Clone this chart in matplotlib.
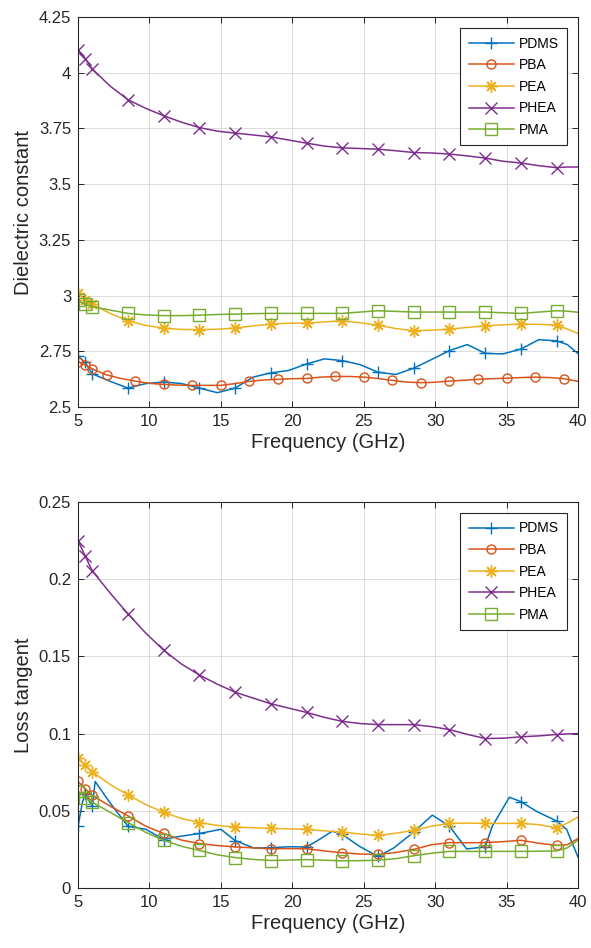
import matplotlib
matplotlib.use('Agg')
import matplotlib.pyplot as plt
import numpy as np

plt.rcParams['font.family'] = ['Liberation Sans', 'DejaVu Sans']

# frequency grid (GHz)
freq = [5, 5.5, 6, 7.25, 8.5, 9.75, 11, 12.25, 13.5, 14.75, 16, 17.25, 18.5, 19.75, 21,
        22.25, 23.5, 24.75, 26, 27.25, 28.5, 29.75, 31, 32.25, 33.5, 34.75, 36, 37.25,
        38.5, 39.25, 40]
marks = [5, 5.5, 6, 8.5, 11, 13.5, 16, 18.5, 21, 23.5, 26, 28.5, 31, 33.5, 36, 38.5]

# ---- dielectric constant ----
eps_pdms = [2.728, 2.70, 2.649, 2.615, 2.585, 2.605, 2.612, 2.605, 2.585, 2.564, 2.585,
            2.634, 2.653, 2.664, 2.693, 2.716, 2.708, 2.69, 2.656, 2.646, 2.674, 2.713,
            2.753, 2.78, 2.741, 2.738, 2.76, 2.802, 2.797, 2.78, 2.74]

freq_pba = [5, 5.5, 6, 7, 8, 9, 10, 11, 12, 13, 14, 15, 16, 17, 18, 19, 20, 21, 22, 23,
            24, 25, 26, 27, 28, 29, 30, 31, 32, 33, 34, 35, 36, 37, 38, 39, 40]
marks_pba = [5, 5.5, 6, 7, 9, 11, 13, 15, 17, 19, 21, 23, 25, 27, 29, 31, 33, 35, 37, 39]
eps_pba = [2.704, 2.689, 2.671, 2.644, 2.628, 2.616, 2.606, 2.601, 2.598, 2.597, 2.597,
           2.597, 2.605, 2.615, 2.621, 2.624, 2.627, 2.628, 2.634, 2.637, 2.637, 2.634,
           2.628, 2.619, 2.612, 2.609, 2.611, 2.616, 2.620, 2.624, 2.627, 2.629, 2.632,
           2.634, 2.632, 2.627, 2.615]

eps_pea = [3.013, 2.978, 2.96, 2.92, 2.887, 2.866, 2.854, 2.848, 2.847, 2.849, 2.854,
           2.864, 2.872, 2.876, 2.876, 2.882, 2.887, 2.878, 2.867, 2.852, 2.842, 2.845,
           2.849, 2.857, 2.864, 2.869, 2.872, 2.871, 2.867, 2.85, 2.83]

eps_phea = [4.10, 4.064, 4.017, 3.94, 3.879, 3.84, 3.807, 3.778, 3.754, 3.738, 3.729,
            3.721, 3.712, 3.698, 3.684, 3.671, 3.663, 3.66, 3.657, 3.65, 3.642, 3.64,
            3.635, 3.627, 3.617, 3.603, 3.595, 3.583, 3.574, 3.577, 3.577]

eps_pma = [2.978, 2.96, 2.95, 2.935, 2.92, 2.913, 2.91, 2.91, 2.912, 2.915, 2.917, 2.919,
           2.92, 2.92, 2.92, 2.92, 2.92, 2.926, 2.932, 2.929, 2.926, 2.926, 2.926, 2.926,
           2.926, 2.923, 2.92, 2.926, 2.932, 2.93, 2.925]

# ---- loss tangent ----
freq_pdms_tan = [5, 5.3, 5.5, 5.8, 6, 6.2, 7.25, 8.5, 9.75, 11, 11.9, 13.5, 15, 16, 17.3,
                 18.5, 19.8, 21, 21.7, 22.8, 23.5, 24.7, 26, 27.1, 28.5, 29.8, 31, 32.2,
                 33.5, 34.0, 35.2, 36, 37.1, 38.5, 39.2, 40]
tan_pdms = [0.040, 0.055, 0.061, 0.056, 0.053, 0.069, 0.055, 0.040, 0.038, 0.0314, 0.0331,
            0.0353, 0.038, 0.0307, 0.0259, 0.0261, 0.0267, 0.0266, 0.0303, 0.0368, 0.0347,
            0.027, 0.0204, 0.0259, 0.0362, 0.0472, 0.0401, 0.0253, 0.0266, 0.040, 0.0588,
            0.0559, 0.0496, 0.0434, 0.038, 0.020]

tan_pba = [0.069, 0.0643, 0.0599, 0.053, 0.0467, 0.040, 0.0353, 0.031, 0.0288, 0.0275,
           0.0266, 0.026, 0.0254, 0.0255, 0.0254, 0.024, 0.0228, 0.022, 0.0217, 0.023,
           0.025, 0.028, 0.0294, 0.0293, 0.0294, 0.030, 0.0309, 0.029, 0.0276, 0.028, 0.032]

tan_pea = [0.084, 0.0796, 0.0753, 0.067, 0.0603, 0.054, 0.0489, 0.045, 0.0424, 0.0405,
           0.0395, 0.039, 0.0386, 0.0383, 0.038, 0.037, 0.0362, 0.035, 0.034, 0.0355,
           0.0373, 0.040, 0.0419, 0.042, 0.0419, 0.0418, 0.0419, 0.041, 0.039, 0.042, 0.046]

tan_phea = [0.225, 0.215, 0.2054, 0.191, 0.1775, 0.165, 0.154, 0.145, 0.1379, 0.132,
            0.1268, 0.123, 0.1193, 0.1165, 0.1137, 0.1105, 0.1079, 0.1065, 0.1058, 0.1058,
            0.1058, 0.1045, 0.1026, 0.0995, 0.0968, 0.097, 0.0979, 0.0985, 0.0994, 0.0998,
            0.100]

tan_pma = [0.0628, 0.0584, 0.0555, 0.049, 0.0424, 0.036, 0.0309, 0.027, 0.0243, 0.0215,
           0.0197, 0.0185, 0.0178, 0.0181, 0.0184, 0.018, 0.0176, 0.0177, 0.018, 0.019,
           0.0209, 0.0225, 0.0237, 0.0237, 0.0237, 0.0237, 0.0237, 0.0238, 0.024, 0.026,
           0.031]

names = ['PDMS', 'PBA', 'PEA', 'PHEA', 'PMA']
colors = ['#0072BD', '#D95319', '#EDB120', '#7E2F8E', '#77AC30']
markers = ['+', 'o', (8, 2, 0), 'x', 's']   # (8,2,0): matlab-style asterisk
msizes = [9, 6.5, 9, 8, 8]

top_series = [(freq, eps_pdms, marks), (freq_pba, eps_pba, marks_pba), (freq, eps_pea, marks),
              (freq, eps_phea, marks), (freq, eps_pma, marks)]
bot_series = [(freq_pdms_tan, tan_pdms, marks), (freq, tan_pba, marks), (freq, tan_pea, marks),
              (freq, tan_phea, marks), (freq, tan_pma, marks)]

fig = plt.figure(figsize=(5.91, 9.48), dpi=100)
ax1 = fig.add_axes([0.132, 0.5707, 0.846, 0.4113])
ax2 = fig.add_axes([0.132, 0.0633, 0.846, 0.4072])


def draw(ax, series, ylim, yticks, ylabel):
    for (f, v, mk), name, c, m, ms in zip(series, names, colors, markers, msizes):
        f = np.array(f)
        idx = np.where(np.isin(f, mk))[0]
        ax.plot(f, v, color=c, lw=1.1, marker=m, markevery=list(idx), ms=ms,
                mfc='none', mec=c, mew=1.0, label=name)
    ax.set_xlim(5, 40)
    ax.set_ylim(*ylim)
    ax.set_xticks([5, 10, 15, 20, 25, 30, 35, 40])
    ax.set_yticks(yticks)
    ax.set_yticklabels([('%g' % t) for t in yticks])
    ax.grid(True, color='#dcdcdc', lw=0.7)
    ax.set_axisbelow(True)
    ax.tick_params(direction='in', top=True, right=True, length=4, width=0.7,
                   labelsize=12, colors='#262626', pad=5)
    for s in ax.spines.values():
        s.set_color('#262626')
        s.set_linewidth(0.8)
    ax.set_xlabel('Frequency (GHz)', fontsize=14.5, color='#262626', labelpad=3)
    ax.set_ylabel(ylabel, fontsize=14.5, color='#262626', labelpad=4)
    leg = ax.legend(loc='upper right', fontsize=10, fancybox=False, framealpha=1,
                    edgecolor='#262626', borderaxespad=0.8, handlelength=3.3,
                    handletextpad=0.3, labelspacing=0.55, borderpad=0.6)
    leg.get_frame().set_linewidth(0.8)


draw(ax1, top_series, (2.5, 4.25), [2.5, 2.75, 3, 3.25, 3.5, 3.75, 4, 4.25], 'Dielectric constant')
draw(ax2, bot_series, (0, 0.25), [0, 0.05, 0.1, 0.15, 0.2, 0.25], 'Loss tangent')

fig.savefig('out.png', dpi=100)
